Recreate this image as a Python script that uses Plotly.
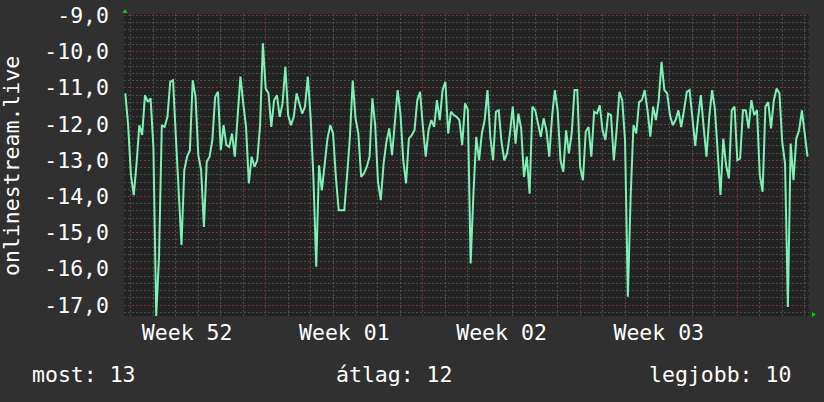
import pandas as pd
import plotly.graph_objects as go

# ---- data ----
series_name = "onlinestream.live"
series_start = "2024-12-23 18:00"
series_step = "3h"
signal_values = [
    -11.15, -12.03, -13.41, -13.96, -13.09, -12.03, -12.30, -11.20, -11.39, -11.29,
    -12.63, -17.30, -15.67, -12.03, -12.08, -11.80, -10.83, -10.79, -12.35, -14.00,
    -15.34, -13.27, -12.90, -12.72, -10.79, -11.25, -12.86, -13.27, -14.84, -13.04,
    -12.90, -12.44, -11.25, -11.11, -12.72, -12.03, -12.58, -12.63, -12.26, -12.90,
    -11.75,
    -10.69, -11.43, -12.08, -13.64, -12.90, -13.18, -13.00, -12.03, -9.77, -11.02,
    -11.15, -12.08, -11.34, -11.20, -11.80, -11.43, -10.42, -11.75, -12.03, -11.80,
    -11.15, -11.43, -11.71, -11.52, -10.69, -11.80, -13.46, -15.94, -13.14, -13.83,
    -13.04, -12.40, -12.03, -12.26, -13.46, -14.38, -14.38, -14.38, -13.41, -12.35,
    -10.80,
    -11.84, -12.26, -13.46, -13.36, -13.18, -12.90, -11.29, -12.03, -13.60, -14.10,
    -13.09, -12.49, -12.12, -12.86, -11.89, -11.06, -11.71, -13.00, -13.64, -12.40,
    -12.31, -12.17, -11.34, -11.11, -12.08, -12.90, -12.17, -11.89, -12.08, -11.34,
    -11.89, -11.06, -10.83, -12.26, -11.66, -11.75, -11.80, -11.89, -12.58, -11.43,
    -11.60,
    -15.85, -13.92, -12.35, -13.00, -12.26, -11.89, -11.06, -12.35, -13.00, -11.66,
    -11.62, -12.49, -13.00, -12.81, -12.26, -11.52, -12.54, -11.71, -12.12, -13.46,
    -12.90, -13.92, -11.52, -11.62, -12.03, -12.35, -11.84, -12.17, -12.90, -11.80,
    -11.06, -11.62, -13.00, -13.32, -12.17, -12.81, -12.26, -11.06, -11.06, -13.18,
    -13.55, -12.21, -12.08, -12.90, -11.66, -11.71, -11.48, -12.17, -12.44, -11.71,
    -11.75, -13.00, -12.17, -11.11, -11.34, -12.44, -16.77, -14.00, -12.03, -12.26,
    -11.39, -11.34, -11.06, -11.62, -12.35, -11.52, -11.89, -11.34, -10.28, -11.06,
    -11.15, -11.75, -12.03, -11.89, -11.62, -12.08, -11.62, -11.11, -11.06, -11.89,
    -12.60,
    -11.85, -11.20, -12.08, -12.90, -11.80, -11.06, -11.57, -12.90, -13.96, -12.40,
    -13.14, -13.50, -11.62, -11.52, -13.00, -12.95, -11.62, -11.62, -12.12, -11.34,
    -11.75, -11.62, -13.41, -13.87, -11.52, -11.39, -12.12, -11.34, -11.02, -11.15,
    -12.49, -13.09, -17.05, -12.54, -13.55, -12.40, -12.17, -11.62, -12.35, -12.90,
]

x_range = ["2024-12-23 16:35", "2025-01-23 04:35"]
week_label_dates = ["2024-12-26 12:00", "2025-01-02 12:00", "2025-01-09 12:00", "2025-01-16 12:00"]
week_labels = ["Week 52", "Week 01", "Week 02", "Week 03"]
week_start = "2024-12-30"

y_range = [-17.30, -8.96]
y_tick_values = [-9, -10, -11, -12, -13, -14, -15, -16, -17]
y_tick_labels = ["-9,0", "-10,0", "-11,0", "-12,0", "-13,0", "-14,0", "-15,0", "-16,0", "-17,0"]

summary_labels = ["most", "átlag", "legjobb"]
summary_values = [13, 12, 10]

# ---- styling ----
FONT = "DejaVu Sans Mono"
FS = 21.5
TXT = "#ffffff"
LINE = "#7cf2b6"
MAJ = "#7a3434"
MIN = "#4e4e4e"
DASH = "2px,2px"
DAY_MS = 86400000

times = pd.date_range(series_start, periods=len(signal_values), freq=series_step)

fig = go.Figure()
fig.add_trace(go.Scatter(
    x=times, y=signal_values, mode="lines", name=series_name,
    line=dict(color=LINE, width=2), hoverinfo="skip", showlegend=False,
))
# empty trace so the label axis (xaxis2) is drawn
fig.add_trace(go.Scatter(
    x=week_label_dates, y=[None] * len(week_label_dates), xaxis="x2", yaxis="y",
    mode="lines", hoverinfo="skip", showlegend=False,
))

fig.update_layout(
    width=824, height=402,
    margin=dict(l=124, r=15, t=14, b=86, pad=0, autoexpand=False),
    paper_bgcolor="#303030", plot_bgcolor="#232323",
    font=dict(family=FONT, size=FS, color=TXT),
    showlegend=False,
    xaxis=dict(
        type="date", range=x_range, automargin=False,
        tickmode="linear", tick0=week_start, dtick=7 * DAY_MS,
        showticklabels=False, ticks="",
        showgrid=True, gridcolor=MAJ, griddash=DASH, gridwidth=1,
        minor=dict(tickmode="linear", tick0=week_start, dtick=DAY_MS,
                   showgrid=True, gridcolor=MIN, griddash=DASH, gridwidth=1),
        zeroline=False, showline=False, fixedrange=True,
    ),
    xaxis2=dict(
        type="date", range=x_range, overlaying="x", anchor="y", side="bottom",
        automargin=False,
        tickmode="array", tickvals=week_label_dates, ticktext=week_labels,
        showgrid=False, ticks="", zeroline=False, showline=False, fixedrange=True,
        tickfont=dict(family=FONT, size=FS, color=TXT), ticklabelstandoff=1,
    ),
    yaxis=dict(
        range=y_range, tickmode="array", tickvals=y_tick_values, ticktext=y_tick_labels,
        automargin=False, ticks="", ticklabelstandoff=14,
        showgrid=True, gridcolor=MAJ, griddash=DASH, gridwidth=1,
        minor=dict(tickmode="linear", tick0=-9, dtick=0.2,
                   showgrid=True, gridcolor=MIN, griddash=DASH, gridwidth=1),
        zeroline=False, showline=False, fixedrange=True,
        tickfont=dict(family=FONT, size=FS, color=TXT),
    ),
)

# y-axis title
fig.add_annotation(
    text=series_name, textangle=-90, xref="paper", yref="paper",
    x=-0.1635, y=0.497, xanchor="center", yanchor="middle", showarrow=False,
    font=dict(family=FONT, size=FS, color=TXT),
)

# summary line
pos = [(-0.137, "left"), (0.3949, "center"), (0.9766, "right")]
for (lab, val), (px, anc) in zip(zip(summary_labels, summary_values), pos):
    fig.add_annotation(
        text=f"{lab}: {val}", xref="paper", yref="paper", x=px, y=-0.195,
        xanchor=anc, yanchor="middle", showarrow=False,
        font=dict(family=FONT, size=FS, color=TXT),
    )

# rrdtool-style axis arrows
fig.add_shape(type="path", xref="paper", yref="paper", xsizemode="pixel", ysizemode="pixel",
              xanchor=0, yanchor=1, path="M -1.5,1 L 3.5,1 L 1,5 Z",
              fillcolor="#00d000", line=dict(width=0))
fig.add_shape(type="path", xref="paper", yref="paper", xsizemode="pixel", ysizemode="pixel",
              xanchor=1, yanchor=0, path="M 3,-1 L 3,4 L 7,1.5 Z",
              fillcolor="#00d000", line=dict(width=0))

fig.write_html(
    "out.html",
    config={"displayModeBar": False, "staticPlot": True},
    post_script="document.body.style.margin='0';document.body.style.overflow='hidden';",
)
